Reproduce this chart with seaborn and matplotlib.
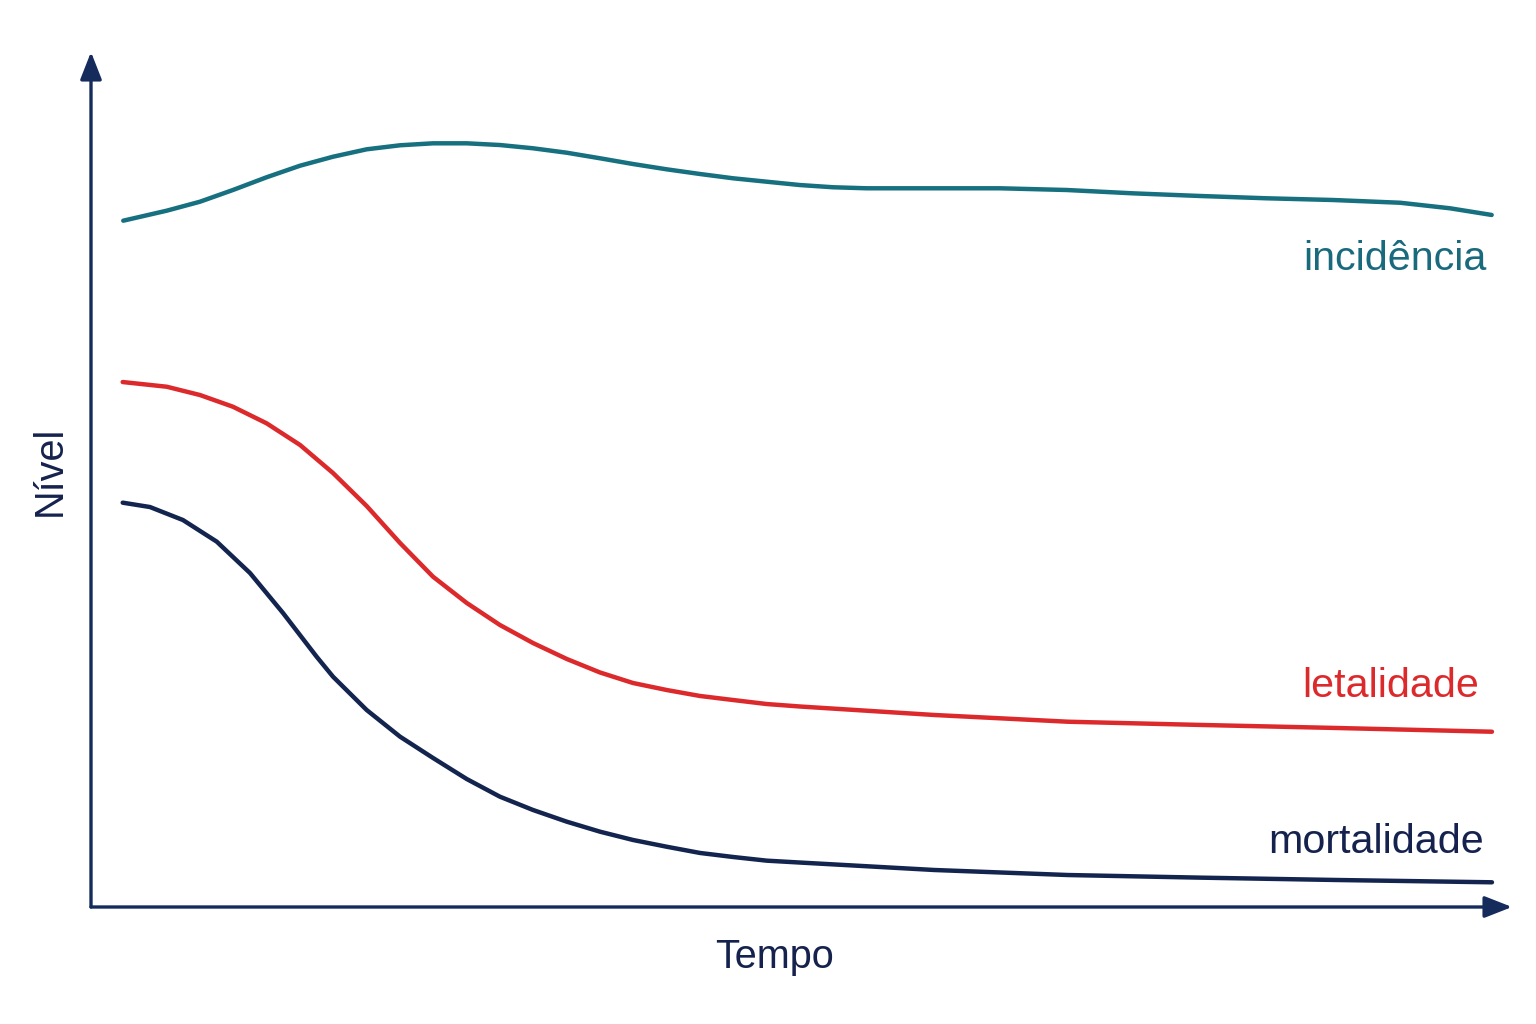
import numpy as np
import pandas as pd
import matplotlib
matplotlib.use("Agg")
import matplotlib.pyplot as plt
import seaborn as sns

# valores (tempo e nível em escala 0-100, sem unidades)
tempo_inc = [2.27, 5.33, 7.67, 9.99, 12.36, 14.71, 17.03, 19.40, 21.75, 24.07,
             26.44, 28.78, 31.10, 33.48, 35.82, 38.14, 40.51, 42.86, 45.18, 47.55,
             49.89, 52.22, 54.59, 56.93, 63.97, 68.66, 73.33, 78.04, 82.74, 87.40,
             92.12, 95.64, 98.57]
incidencia = [80.27, 81.44, 82.49, 83.86, 85.35, 86.70, 87.75, 88.62, 89.09, 89.32,
              89.32, 89.12, 88.74, 88.22, 87.57, 86.90, 86.28, 85.73, 85.23, 84.83,
              84.44, 84.18, 84.06, 84.06, 84.06, 83.86, 83.47, 83.16, 82.89, 82.69,
              82.37, 81.72, 80.94]

tempo_let = [2.23, 5.33, 7.67, 9.99, 12.36, 14.71, 17.03, 19.40, 21.75, 24.07,
             26.44, 28.78, 31.10, 33.48, 35.82, 38.14, 40.51, 42.86, 45.18, 47.55,
             49.89, 59.32, 68.75, 78.18, 87.61, 98.59]
letalidade = [61.40, 60.85, 59.88, 58.51, 56.57, 54.04, 50.76, 46.90, 42.57, 38.63,
              35.56, 32.98, 30.88, 29.01, 27.43, 26.20, 25.38, 24.68, 24.21, 23.74,
              23.45, 22.46, 21.67, 21.29, 20.94, 20.50]

tempo_mor = [2.23, 4.15, 6.47, 8.85, 11.19, 13.51, 15.88, 17.03, 19.40, 21.75,
             24.07, 26.44, 28.78, 31.10, 33.48, 35.82, 38.14, 40.51, 42.86, 45.18,
             47.55, 49.89, 59.32, 68.75, 78.18, 87.61, 98.59]
mortalidade = [47.29, 46.78, 45.26, 42.73, 39.06, 34.39, 29.27, 26.94, 23.04, 19.92,
               17.43, 14.97, 12.90, 11.35, 9.98, 8.81, 7.84, 7.05, 6.32, 5.85,
               5.42, 5.20, 4.33, 3.74, 3.43, 3.16, 2.89]

cores = {"incidência": "#17707f", "letalidade": "#dc2a2c", "mortalidade": "#13254f"}
navy = "#142b5c"

df = pd.concat([
    pd.DataFrame({"Tempo": tempo_inc, "Nível": incidencia, "serie": "incidência"}),
    pd.DataFrame({"Tempo": tempo_let, "Nível": letalidade, "serie": "letalidade"}),
    pd.DataFrame({"Tempo": tempo_mor, "Nível": mortalidade, "serie": "mortalidade"}),
], ignore_index=True)

sns.set_theme(style="white")
plt.rcParams["font.family"] = ["Liberation Sans", "DejaVu Sans"]

fig = plt.figure(figsize=(15.36, 10.24), dpi=100)
ax = fig.add_axes([91 / 1536, 1 - 907 / 1024, (1512 - 91) / 1536, (907 - 52) / 1024])

sns.lineplot(data=df, x="Tempo", y="Nível", hue="serie", palette=cores,
             linewidth=3.2, legend=False, ax=ax, estimator=None)
for ln in ax.get_lines():
    ln.set_solid_capstyle("round")
    ln.set_solid_joinstyle("round")

ax.set_xlim(0, 100)
ax.set_ylim(0, 100)
ax.set_xticks([])
ax.set_yticks([])
ax.set_xlabel("")
ax.set_ylabel("")
for sp in ax.spines.values():
    sp.set_visible(False)

# eixos com setas
arrow = dict(arrowstyle="-|>,head_length=1.4,head_width=0.55", color=navy,
             lw=2.4, shrinkA=0, shrinkB=0)
ax.annotate("", xy=(1, 0), xytext=(0, 0), xycoords="axes fraction",
            arrowprops=arrow, annotation_clip=False)
ax.annotate("", xy=(0, 1), xytext=(0, 0), xycoords="axes fraction",
            arrowprops=arrow, annotation_clip=False)

# rótulos das curvas
ax.text(98.2, 74.5, "incidência", color="#1a6a7e", fontsize=29.7, ha="right", va="baseline")
ax.text(97.7, 24.6, "letalidade", color="#dc2a2c", fontsize=29.7, ha="right", va="baseline")
ax.text(98.0, 6.3, "mortalidade", color="#15224d", fontsize=29.7, ha="right", va="baseline")

ax.text(48.1, -7.1, "Tempo", color="#15224d", fontsize=28.5, ha="center", va="baseline",
        clip_on=False)
ax.text(-2.9, 51, "Nível", color="#15224d", fontsize=28.5, ha="center", va="center",
        rotation=90, clip_on=False)

fig.savefig("out.png", dpi=100, facecolor="white")
